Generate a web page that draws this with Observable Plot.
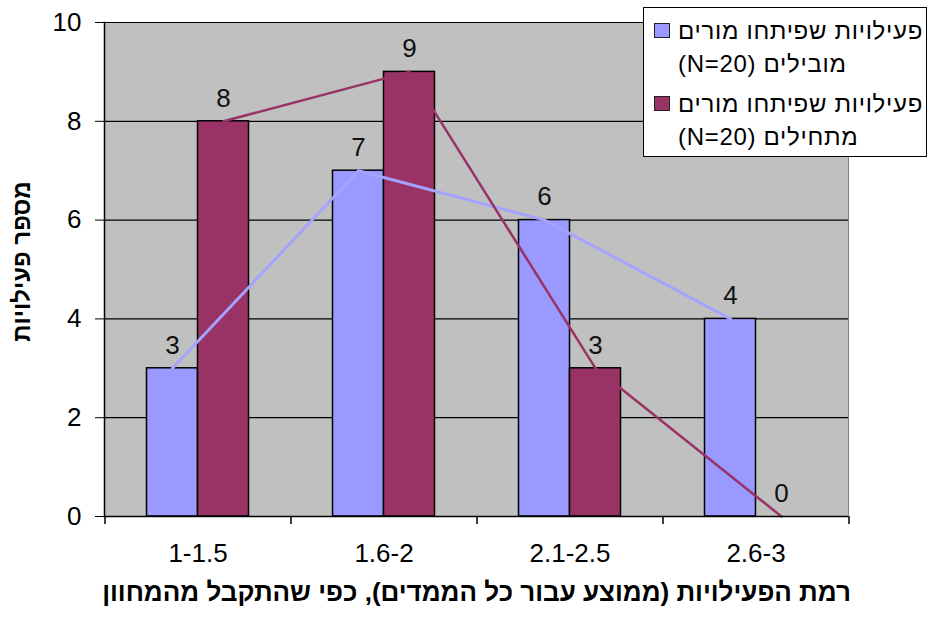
<!DOCTYPE html>
<html>
<head>
<meta charset="utf-8">
<script src="https://cdn.jsdelivr.net/npm/d3@7"></script>
<script src="https://cdn.jsdelivr.net/npm/@observablehq/plot@0.6"></script>
<style>
  html, body { margin: 0; padding: 0; background: #fff; }
  #wrap { position: relative; width: 929px; height: 617px; overflow: hidden; }
  #legend {
    position: absolute; left: 643px; top: 7px; width: 282px; height: 148px;
    border: 1.5px solid #000; background: #fff;
    font-family: "Liberation Sans", Arial, "DejaVu Sans", sans-serif; font-size: 24px; color: #000;
  }
  .item { position: absolute; left: 0; width: 282px; }
  .swatch { position: absolute; left: 10px; width: 14px; height: 13px; border: 1.5px solid #222; }
  .label { position: absolute; left: 34px; width: 250px; direction: rtl; text-align: left; line-height: 33px; white-space: nowrap; letter-spacing: 0.7px; }
</style>
</head>
<body>
<div id="wrap"></div>
<script>
const categories = ["1-1.5", "1.6-2", "2.1-2.5", "2.6-3"];
const leadingValues = [3, 7, 6, 4];
const beginnerValues = [8, 9, 3, 0];
const seriesNames = [
  "פעילויות שפיתחו מורים מובילים (N=20)",
  "פעילויות שפיתחו מורים מתחילים (N=20)"
];
const seriesColors = ["#9999FF", "#993366"];
const lineColors = ["#A4A4FF", "#993366"];
const yTicks = [0, 2, 4, 6, 8, 10];
const yTitle = "מספר פעילויות";
const xTitle = "רמת הפעילויות (ממוצע עבור כל הממדים), כפי שהתקבל מהמחוון";

const leadRows = categories.map((c, i) => ({cat: c, value: leadingValues[i]}));
const beginRows = categories.map((c, i) => ({cat: c, value: beginnerValues[i]}));

const font = "Liberation Sans, Arial, DejaVu Sans, sans-serif";
const half = 25.5;   // half of bar width (px)
const halfStep = 93; // half of category step (px)

const chart = Plot.plot({
  width: 929,
  height: 617,
  marginLeft: 104,
  marginRight: 81,
  marginTop: 22,
  marginBottom: 101,
  style: {fontFamily: font, fontSize: "26px", color: "#000", background: "white", overflow: "visible"},
  x: {domain: categories, paddingInner: 0.726, paddingOuter: 0.363, label: null},
  y: {domain: [0, 10], label: null},
  marks: [
    Plot.frame({fill: "#C0C0C0", stroke: "#808080"}),
    Plot.gridY(yTicks, {stroke: "#000", strokeOpacity: 1, strokeWidth: 1.2}),
    Plot.barY(leadRows, {x: "cat", y: "value", dx: -half, fill: seriesColors[0], stroke: "#000", strokeWidth: 1.5}),
    Plot.barY(beginRows, {x: "cat", y: "value", dx: half, fill: seriesColors[1], stroke: "#000", strokeWidth: 1.5}),
    Plot.line(leadRows, {x: "cat", y: "value", dx: -half, stroke: lineColors[0], strokeWidth: 3}),
    Plot.line(beginRows, {x: "cat", y: "value", dx: half, stroke: lineColors[1], strokeWidth: 2.5}),
    Plot.text(leadRows, {x: "cat", y: "value", text: d => String(d.value), dx: -half, dy: -23, fontSize: 26, fill: "#111"}),
    Plot.text(beginRows, {x: "cat", y: "value", text: d => String(d.value), dx: half, dy: -23, fontSize: 26, fill: "#111"}),
    Plot.ruleY([0], {stroke: "#000", strokeWidth: 1.5}),
    Plot.frame({anchor: "left", stroke: "#000", strokeWidth: 1.5}),
    Plot.ruleX(categories, {x: d => d, dx: -halfStep, y1: 0, y2: 0, insetBottom: -8, stroke: "#000", strokeWidth: 1.5}),
    Plot.ruleX(categories.slice(-1), {x: d => d, dx: halfStep, y1: 0, y2: 0, insetBottom: -8, stroke: "#000", strokeWidth: 1.5}),
    Plot.axisY({ticks: yTicks, tickSize: 9, tickPadding: 14, fontSize: 26, tickFormat: d => String(d)}),
    Plot.axisX({tickSize: 0, tickPadding: 27, fontSize: 26}),
    Plot.text([yTitle], {frameAnchor: "left", dx: -82, dy: -8, rotate: -90, textAnchor: "middle", fontWeight: "bold", fontSize: 24}),
    Plot.text([xTitle], {frameAnchor: "bottom", dy: 84, textAnchor: "middle", fontWeight: "bold", fontSize: 26})
  ]
});

chart.querySelectorAll("text").forEach(t => t.setAttribute("unicode-bidi", "plaintext"));

const wrap = document.getElementById("wrap");
wrap.appendChild(chart);

const legend = document.createElement("div");
legend.id = "legend";
const itemTops = [0, 73];
seriesNames.forEach((name, i) => {
  const words = name.split(" ");
  const item = document.createElement("div");
  item.className = "item";
  item.style.top = itemTops[i] + "px";
  const sw = document.createElement("div");
  sw.className = "swatch";
  sw.style.top = "15px";
  sw.style.background = seriesColors[i];
  const lab = document.createElement("div");
  lab.className = "label";
  lab.style.top = "6px";
  lab.setAttribute("dir", "rtl");
  lab.innerHTML = words.slice(0, 3).join(" ") + "<br>" + words.slice(3).join(" ");
  item.appendChild(sw);
  item.appendChild(lab);
  legend.appendChild(item);
});
wrap.appendChild(legend);
</script>
</body>
</html>
